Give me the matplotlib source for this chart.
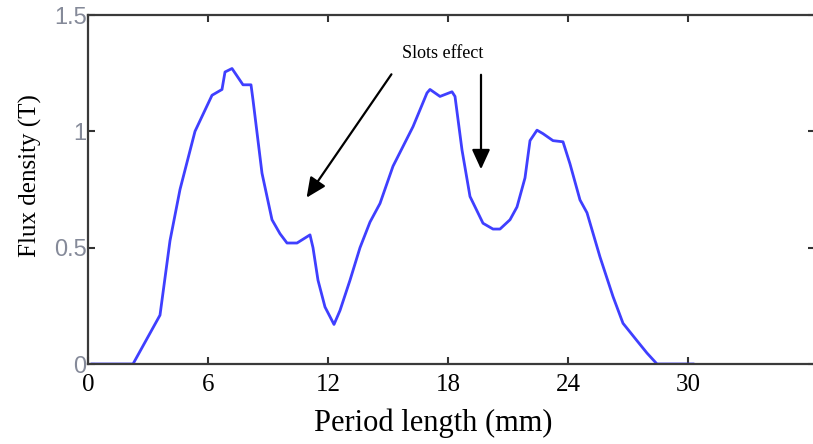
import matplotlib
matplotlib.use("Agg")
import matplotlib.pyplot as plt

# period length (mm) and flux density (T)
x = [0.2, 2.25, 3.6, 4.1, 4.6, 5.35, 6.2, 6.7, 6.85, 7.2, 7.75, 8.15, 8.25, 8.7,
     9.2, 9.6, 9.95, 10.45, 11.1, 11.25, 11.5, 11.85, 12.3, 12.6, 13.1, 13.6,
     14.1, 14.6, 15.25, 16.25, 16.95, 17.1, 17.6, 18.2, 18.35, 18.7, 19.1,
     19.75, 20.25, 20.6, 21.1, 21.45, 21.85, 22.1, 22.45, 22.75, 23.25, 23.75,
     24.1, 24.6, 24.95, 25.6, 26.25, 26.75, 27.45, 27.95, 28.45, 30.25]
flux = [0.0, 0.0, 0.21, 0.53, 0.75, 1.0, 1.155, 1.18, 1.255, 1.27, 1.2, 1.2, 1.135, 0.82,
        0.62, 0.56, 0.52, 0.52, 0.555, 0.5, 0.36, 0.245, 0.17, 0.23, 0.36, 0.5,
        0.61, 0.69, 0.85, 1.02, 1.165, 1.18, 1.15, 1.17, 1.15, 0.92, 0.72,
        0.605, 0.58, 0.58, 0.62, 0.675, 0.8, 0.96, 1.005, 0.99, 0.96, 0.955,
        0.86, 0.705, 0.65, 0.46, 0.29, 0.175, 0.10, 0.047, 0.0, 0.0]

xticks = [0, 6, 12, 18, 24, 30]
yticks = [0, 0.5, 1, 1.5]
ytick_labels = ["0", "0.5", "1", "1.5"]

fig = plt.figure(figsize=(8.13, 4.44), dpi=100)
ax = fig.add_axes([88 / 813, 80 / 444, 727 / 813, 349 / 444])

ax.plot(x, flux, color="#3f3fff", linewidth=2)

ax.set_xlim(0, 36.35)
ax.set_ylim(0, 1.5)
ax.set_xticks(xticks)
ax.set_yticks(yticks)
ax.set_yticklabels(ytick_labels)
ax.tick_params(direction="in", top=True, right=True, length=5, width=1.5, color="#333333")
ax.tick_params(axis="x", labelsize=18, pad=7)
ax.tick_params(axis="y", labelsize=17, pad=1, labelcolor="#858a99")
for lab in ax.get_xticklabels():
    lab.set_family("Liberation Serif")
for lab in ax.get_yticklabels():
    lab.set_family("Liberation Sans")
for sp in ax.spines.values():
    sp.set_color("#3a3a3a")
    sp.set_linewidth(1.6)

ax.set_xlabel("Period length (mm)", family="Liberation Serif", fontsize=22)
ax.xaxis.set_label_coords(345 / 727, -44 / 349)
ax.set_ylabel("Flux density (T)", family="Liberation Serif", fontsize=18)
ax.yaxis.set_label_coords(-46 / 727, 0.54)

ax.text(17.75, 1.336, "Slots effect", family="Liberation Serif", fontsize=13,
        ha="center", va="center")
arrow = dict(arrowstyle="-|>,head_length=1.2,head_width=0.55", color="black", lw=1.6)
ax.annotate("", xy=(10.85, 0.705), xytext=(15.25, 1.255), arrowprops=arrow)
ax.annotate("", xy=(19.65, 0.825), xytext=(19.65, 1.255), arrowprops=arrow)

fig.savefig("out.png", dpi=100)
